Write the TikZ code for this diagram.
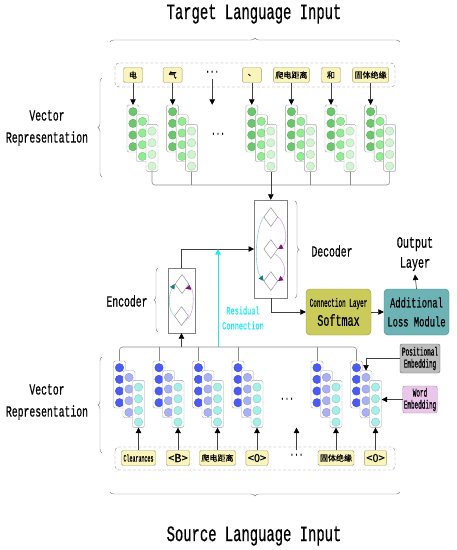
\documentclass[tikz,border=0pt]{standalone}
\usepackage{fontspec}
\usepackage{tikz}
\usetikzlibrary{arrows.meta,positioning,shapes.geometric,decorations.pathreplacing}
\setmainfont{Liberation Mono}[FakeStretch=0.63,FakeBold=0.5]
\newfontfamily\narrowfont{Liberation Mono}[FakeStretch=0.5,FakeBold=0.5]
\newfontfamily\cjk{Noto Sans CJK SC}[FakeBold=0.5]
\newcommand\fsz[2]{\fontsize{#1}{#2}\selectfont}
\definecolor{tokfill}{HTML}{F9F4BC}
\definecolor{tokline}{HTML}{A39A62}
\definecolor{stkline}{HTML}{A0A0A0}
\definecolor{wirecol}{HTML}{8C8C8C}
\definecolor{tg0}{HTML}{6CC76C}
\definecolor{tg1}{HTML}{93EC93}
\definecolor{tg2}{HTML}{D0F5D0}
\definecolor{bl0}{HTML}{4B5CF5}
\definecolor{bl1}{HTML}{A9B1F5}
\definecolor{bl2}{HTML}{A8EEE8}
\definecolor{connfill}{HTML}{CACB5B}
\definecolor{connline}{HTML}{96963C}
\definecolor{addfill}{HTML}{6DB3B6}
\definecolor{addline}{HTML}{3F8A8E}
\definecolor{posfill}{HTML}{BDBDBD}
\definecolor{wordfill}{HTML}{EBC6EB}
\definecolor{wordline}{HTML}{A880A8}
\definecolor{tealarc}{HTML}{8FD3C8}
\definecolor{tealtip}{HTML}{167E7E}
\definecolor{purparc}{HTML}{D9A6DD}
\definecolor{purptip}{HTML}{7D1480}
\definecolor{resid}{HTML}{22E6F2}

\begin{document}
\begin{tikzpicture}[x=1pt,y=-1pt,
  tok/.style={draw=tokline,fill=tokfill,rounded corners=1.5pt,minimum height=15,minimum width=19,inner xsep=2pt,inner ysep=0pt,font=\cjk\fsz{8}{9}},
  stk/.style={draw=stkline,fill=white,rounded corners=1.5pt,minimum width=12,minimum height=47,inner sep=0pt},
  wire/.style={draw=wirecol,line width=0.6pt},
  arr/.style={draw=black!75,line width=0.6pt,-{Triangle[length=5.5pt,width=5.5pt,color=black]}},
  dia/.style={diamond,draw=gray,minimum width=14,minimum height=19,inner sep=0pt},
  brc/.style={draw=gray,decorate,decoration={brace,amplitude=4pt}},
  lbl/.style={align=center,font=\fsz{15.5}{22}},
  box/.style={rounded corners=4pt,minimum width=65,minimum height=46,align=center,inner sep=1pt}]
\useasboundingbox (0,0) rectangle (457,550);

% titles and outer braces
\node[font=\fsz{22}{26}] (tgt) at (254,14) {Target Language Input};
\node[font=\fsz{22}{26}] (src) at (254,536) {Source Language Input};
\draw[brc] (110,42) -- (400,42);
\draw[brc] (400,492) -- (110,492);

% target side
\draw[draw=gray,dash pattern=on 3pt off 2pt,rounded corners=4pt] (115,63) rectangle (395,87);
\foreach \i/\cx/\txt in {0/133/电,1/172.6/气,3/251.8/、,4/291.4/爬电距离,5/331/和,6/370.6/固体绝缘}{
  \foreach \k in {0,1,2}{
    \node[stk] (t\i\k) at ({\cx+9.5*\k},{128.5+9.7*\k}) {};
    \foreach \j in {0,...,3}
      \filldraw[fill=tg\k,draw=tg\k!85!black] ({\cx+9.5*\k},{111.7+9.7*\k+11.67*\j}) circle (4.2pt);
  }
  \node[tok] (tk\i) at (\cx,75) {\txt};
  \draw[arr] (tk\i) -- (t\i0);
}
\node[font=\fsz{12}{12}] (tkd) at (212.2,73) {···};
\draw[arr] (tkd) -- (tkd |- t00.north);
\node[font=\fsz{12}{12}] (tmd) at (218,135) {···};
\coordinate (tbus) at (0,185);
\draw[wire,rounded corners=3pt] (t02.south) |- (t62.south |- tbus) -- (t62.south);
\foreach \i in {1,4,5} \draw[wire] (t\i2.south) -- (t\i2.south |- tbus);
\node[lbl] (vrt) at (47,128) {Vector\\Representation};
\draw[brc] (102,177) -- (102,78);

% decoder
\node[draw=gray,minimum width=33,minimum height=98,inner sep=0pt] (dec) at (270.8,249) {};
\node[dia] (dm1) at (270.8,217) {};
\node[dia] (dm2) at (270.8,249) {};
\node[dia] (dm3) at (270.8,281) {};
\draw[arr] (t32.south) -- (dec.north);
\draw[tealarc,line width=0.6pt,-{Triangle[length=5pt,width=5pt,color=tealtip]}] (dm1.west) .. controls (255,230) and (254,268) .. (dm3.west);
\draw[purparc,line width=0.6pt,-{Triangle[length=5pt,width=5pt,color=purptip]}] (dm1.east) .. controls (287,225) and (288,243) .. (dm2.east);
\draw[purparc,line width=0.6pt,-{Triangle[length=5pt,width=5pt,color=purptip]}] (dm2.south east) .. controls (284,258) and (288,274) .. (dm3.east);
\draw[brc] (295,201) -- (295,298);
\node[font=\fsz{15.5}{18}] (decl) at (332,251) {Decoder};

% encoder
\node[draw=gray,minimum width=27,minimum height=65,inner sep=0pt] (enc) at (181.5,300.5) {};
\node[dia] (em1) at (182,284) {};
\node[dia] (em2) at (181.5,316) {};
\draw[tealarc,line width=0.6pt,-{Triangle[length=5pt,width=5pt,color=tealtip]}] (em2.west) .. controls (168,310) and (168,295) .. (em1.west);
\draw[purparc,line width=0.6pt,-{Triangle[length=5pt,width=5pt,color=purptip]}] (em2.south east) .. controls (196,316) and (194,286) .. (em1.south east);
\draw[brc] (158,332) -- (158,268);
\node[font=\fsz{15.5}{18}] (encl) at (127,301) {Encoder};
\draw[arr] (enc.north) |- (dec.west);

% residual connection
\coordinate (rb) at (218,347);
\draw[resid,line width=0.6pt,-{Triangle[length=5.5pt,width=5.5pt]}] (rb) -- (rb |- dec.west);
\node[text=resid,align=center,font=\fsz{11}{15}] (resl) at (243,318) {Residual\\Connection};

% output side
\node[box,draw=connline,fill=connfill,font=\fsz{16}{19}] (conn) at (338.5,312) {{\narrowfont\fsz{12}{19}Connection Layer}\\Softmax};
\node[box,draw=addline,fill=addfill,font=\fsz{14}{19}] (add) at (416.5,312) {Additional\\Loss Module};
\node[align=center,font=\fsz{16}{20}] (outl) at (415,254) {Output\\Layer};
\draw[arr] (dec.south) |- (conn.west);
\draw[arr] (conn.east) -- (add.west);
\draw[arr] (add.north) -- (outl.south);

% source side
\foreach \i/\cx in {0/119.5,1/159,2/198.5,3/238,5/317,6/356.5}{
  \foreach \k in {0,1,2}{
    \node[stk] (s\i\k) at ({\cx+9.5*\k},{384.5+9.7*\k}) {};
    \foreach \j in {0,...,3}
      \filldraw[fill=bl\k,draw=bl\k!85!black] ({\cx+9.5*\k},{367.7+9.7*\k+11.67*\j}) circle (4.2pt);
  }
}
\node[font=\fsz{12}{12}] (bmd) at (287,400) {···};
\coordinate (bbus) at (0,347);
\draw[wire,rounded corners=3pt] (s00.north) |- (s60.north |- bbus) -- (s60.north);
\foreach \i in {1,2,3,5} \draw[wire] (s\i0.north) -- (s\i0.north |- bbus);
\draw[arr] (enc.south |- bbus) -- (enc.south);
\draw[draw=gray,dash pattern=on 3pt off 2pt,rounded corners=4pt] (115,447) rectangle (395,470);
\foreach \i/\cx/\txt in {0/138.5/{\narrowfont\fsz{10}{10}Clearances},1/178/{\fsz{11}{11}<B>},2/217.5/爬电距离,3/257/{\fsz{11}{11}<0>},5/336/固体绝缘,6/375.5/{\fsz{11}{11}<0>}}{
  \node[tok] (bk\i) at (\cx,458) {\txt};
  \draw[arr] (bk\i) -- (s\i2);
}
\node[font=\fsz{12}{12}] (bkd) at (296.5,456) {···};
\draw[arr] (bkd) -- (bkd |- s02.south);
\node[lbl] (vrb) at (47,402) {Vector\\Representation};
\draw[brc] (102,453) -- (102,357);

% embeddings
\node[draw=gray!80!black,fill=posfill,rounded corners=2pt,minimum width=40,minimum height=29,align=center,inner sep=1pt,font=\narrowfont\fsz{12}{12}] (pos) at (420,358.5) {Positional\\Embedding};
\node[draw=wordline,fill=wordfill,rounded corners=2pt,minimum width=34,minimum height=27,align=center,inner sep=1pt,font=\narrowfont\fsz{12}{12}] (word) at (420,399.5) {Word\\Embedding};
\draw[arr] (pos.west) -| (s61.north);
\draw[arr] (word.west) -- (word.west -| s62.east);
\end{tikzpicture}
\end{document}
